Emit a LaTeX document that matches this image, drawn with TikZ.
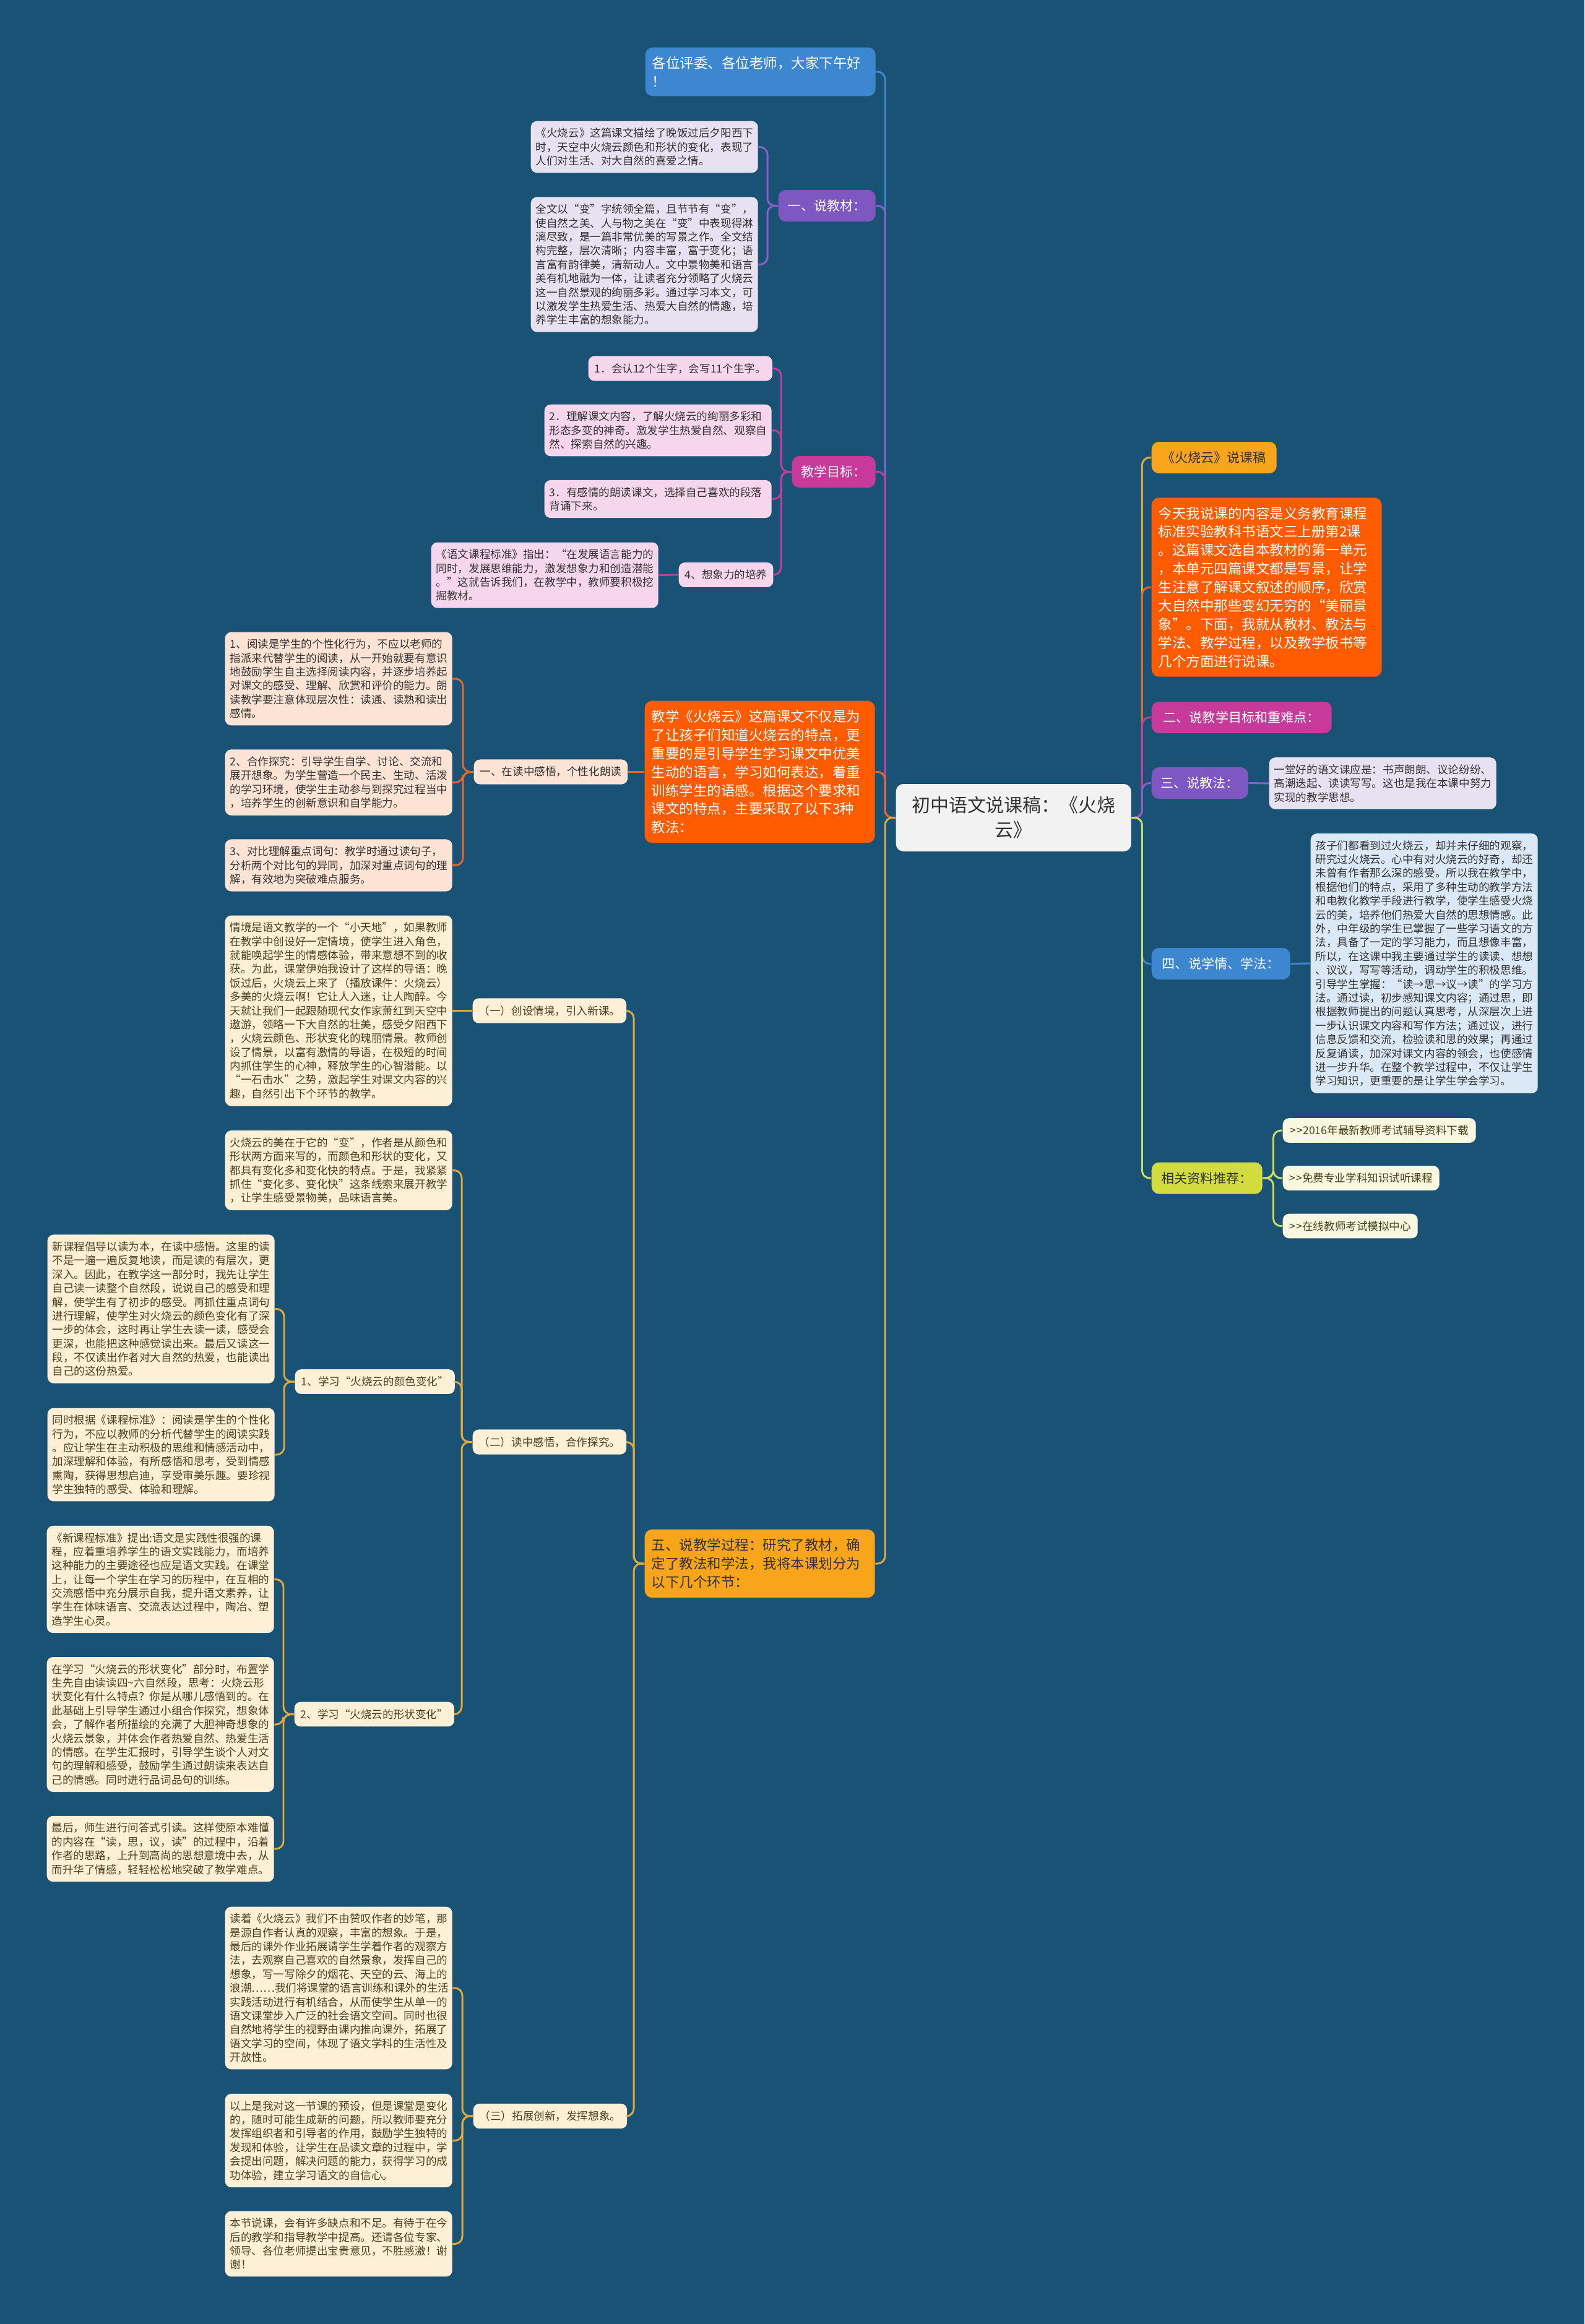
\documentclass[tikz,border=0pt]{standalone}
\usepackage{fontspec}
\setmainfont{Noto Sans CJK SC}
\usepackage{xcolor}
\definecolor{bgblue}{HTML}{1A5276}
\definecolor{cBlue}{HTML}{3D87D0}
\definecolor{cPur}{HTML}{7E57C2}
\definecolor{cPnk}{HTML}{C7399B}
\definecolor{cOrg}{HTML}{FF5B00}
\definecolor{cGld}{HTML}{F8A51C}
\definecolor{cGrn}{HTML}{D3DC3E}
\definecolor{lBlue}{HTML}{3F86CC}
\definecolor{lPur}{HTML}{8A5FC8}
\definecolor{lPnk}{HTML}{C13F99}
\definecolor{lOrg}{HTML}{E2692B}
\definecolor{lGld}{HTML}{E0A93A}
\definecolor{lGrn}{HTML}{C8DE5F}
\definecolor{fPur}{HTML}{E7E1F2}
\definecolor{fPnk}{HTML}{F6D6EC}
\definecolor{fOrg}{HTML}{FDE3D3}
\definecolor{fGld}{HTML}{FDF0D7}
\definecolor{fGrn}{HTML}{F7F8DF}
\definecolor{fBlue}{HTML}{DBE8F5}
\definecolor{tDark}{HTML}{333333}
\definecolor{tBrown}{HTML}{4F3F1E}
\usepackage{tikz}
\tikzset{
  root/.style ={rectangle, rounded corners=1.2mm, fill=black!5, text=tDark, align=center,
                text width=34mm, minimum width=38mm, minimum height=10.9mm, anchor=west,
                font=\fontsize{8.5}{11.4}\selectfont},
  topic/.style={rectangle, rounded corners=1.2mm, minimum height=5.1mm, inner xsep=1mm,
                text=white, anchor=west, font=\fontsize{6}{7.5}\selectfont},
  para/.style ={rectangle, rounded corners=1.2mm, inner xsep=1.1mm, inner ysep=4.2pt,
                text width=35mm, align=left, text=white, anchor=west,
                font=\fontsize{6.4}{8.5}\selectfont},
  leaf/.style ={rectangle, rounded corners=1mm, inner xsep=0.8mm, inner ysep=3.2pt,
                text width=35.1mm, align=left, text=tDark, anchor=west,
                font=\fontsize{5}{6.37}\selectfont},
  tag/.style  ={rectangle, rounded corners=1mm, minimum height=3.9mm, inner xsep=1mm,
                text=tDark, anchor=west, font=\fontsize{5}{6.37}\selectfont},
  link/.style ={rounded corners=1.2mm, line width=0.85pt},
}
\newcommand{\gtgt}{>\kern0.4pt>}

\begin{document}
\begin{tikzpicture}[x=1mm, y=-1mm]
  \fill[bgblue] (0,0) rectangle (256,375.6);

  \node[root] (root) at (144.7,132.15) {初中语文说课稿：《火烧\\云》};

  % left side
  \node[para, fill=cBlue] (hello) at (104.2,11.6) {各位评委、各位老师，大家下午好\\！};

  \node[topic, fill=cPur, minimum width=15.7mm] (jiaocai) at (125.7,33.25) {一、说教材：};
  \node[leaf, fill=fPur] (jc1) at (85.7,23.75) {《火烧云》这篇课文描绘了晚饭过后夕阳西下\\时，天空中火烧云颜色和形状的变化，表现了\\人们对生活、对大自然的喜爱之情。};
  \node[leaf, fill=fPur] (jc2) at (85.7,42.75) {全文以“变”字统领全篇，且节节有“变”，\\使自然之美、人与物之美在“变”中表现得淋\\漓尽致，是一篇非常优美的写景之作。全文结\\构完整，层次清晰；内容丰富，富于变化；语\\言富有韵律美，清新动人。文中景物美和语言\\美有机地融为一体，让读者充分领略了火烧云\\这一自然景观的绚丽多彩。通过学习本文，可\\以激发学生热爱生活、热爱大自然的情趣，培\\养学生丰富的想象能力。};

  \node[topic, fill=cPnk, minimum width=13.5mm] (mubiao) at (127.9,76.25) {教学目标：};
  \node[tag, fill=fPnk, minimum width=29.6mm] (mb1) at (95.0,59.55) {1．会认12个生字，会写11个生字。};
  \node[leaf, fill=fPnk] (mb2) at (87.9,69.55) {2．理解课文内容，了解火烧云的绚丽多彩和\\形态多变的神奇。激发学生热爱自然、观察自\\然、探索自然的兴趣。};
  \node[leaf, fill=fPnk] (mb3) at (87.9,80.65) {3．有感情的朗读课文，选择自己喜欢的段落\\背诵下来。};
  \node[tag, fill=fPnk, minimum width=15mm] (mb4) at (109.6,92.9) {4、想象力的培养};
  \node[leaf, fill=fPnk] (mb4a) at (69.6,92.95) {《语文课程标准》指出：“在发展语言能力的\\同时，发展思维能力，激发想象力和创造潜能\\。”这就告诉我们，在教学中，教师要积极挖\\掘教材。};

  \node[para, fill=cOrg] (jiaofa3) at (104.1,124.75) {教学《火烧云》这篇课文不仅是为\\了让孩子们知道火烧云的特点，更\\重要的是引导学生学习课文中优美\\生动的语言，学习如何表达，着重\\训练学生的语感。根据这个要求和\\课文的特点，主要采取了以下3种\\教法：};
  \node[tag, fill=fOrg, minimum width=24.2mm] (dudu) at (76.5,124.75) {一、在读中感悟，个性化朗读};
  \node[leaf, fill=fOrg] (dd1) at (36.3,109.7) {1、阅读是学生的个性化行为，不应以老师的\\指派来代替学生的阅读，从一开始就要有意识\\地鼓励学生自主选择阅读内容，并逐步培养起\\对课文的感受、理解、欣赏和评价的能力。朗\\读教学要注意体现层次性：读通、读熟和读出\\感情。};
  \node[leaf, fill=fOrg] (dd2) at (36.3,126.45) {2、合作探究：引导学生自学、讨论、交流和\\展开想象。为学生营造一个民主、生动、活泼\\的学习环境，使学生主动参与到探究过程当中\\，培养学生的创新意识和自学能力。};
  \node[leaf, fill=fOrg] (dd3) at (36.3,139.85) {3、对比理解重点词句：教学时通过读句子，\\分析两个对比句的异同，加深对重点词句的理\\解，有效地为突破难点服务。};

  \node[para, fill=cGld, text=tDark] (guocheng) at (104.1,252.7) {五、说教学过程：研究了教材，确\\定了教法和学法，我将本课划分为\\以下几个环节：};
  \node[tag, fill=fGld, text=tBrown, minimum width=24.5mm] (step1) at (76.3,163.35) {（一）创设情境，引入新课。};
  \node[leaf, fill=fGld, text=tBrown] (qj) at (36.3,163.35) {情境是语文教学的一个“小天地”，如果教师\\在教学中创设好一定情境，使学生进入角色，\\就能唤起学生的情感体验，带来意想不到的收\\获。为此，课堂伊始我设计了这样的导语：晚\\饭过后，火烧云上来了（播放课件：火烧云）\\多美的火烧云啊！它让人入迷，让人陶醉。今\\天就让我们一起跟随现代女作家萧红到天空中\\遨游，领略一下大自然的壮美，感受夕阳西下\\，火烧云颜色、形状变化的瑰丽情景。教师创\\设了情景，以富有激情的导语，在极短的时间\\内抓住学生的心神，释放学生的心智潜能。以\\“一石击水”之势，激起学生对课文内容的兴\\趣，自然引出下个环节的教学。};
  \node[tag, fill=fGld, text=tBrown, minimum width=24.2mm] (step2) at (76.3,233.05) {（二）读中感悟，合作探究。};
  \node[leaf, fill=fGld, text=tBrown] (meili) at (36.3,189.15) {火烧云的美在于它的“变”，作者是从颜色和\\形状两方面来写的，而颜色和形状的变化，又\\都具有变化多和变化快的特点。于是，我紧紧\\抓住“变化多、变化快”这条线索来展开教学\\，让学生感受景物美，品味语言美。};
  \node[tag, fill=fGld, text=tBrown, minimum width=25.4mm] (yanse) at (47.6,223.3) {1、学习“火烧云的颜色变化”};
  \node[leaf, fill=fGld, text=tBrown] (ys1) at (7.6,211.55) {新课程倡导以读为本，在读中感悟。这里的读\\不是一遍一遍反复地读，而是读的有层次，更\\深入。因此，在教学这一部分时，我先让学生\\自己读一读整个自然段，说说自己的感受和理\\解，使学生有了初步的感受。再抓住重点词句\\进行理解，使学生对火烧云的颜色变化有了深\\一步的体会，这时再让学生去读一读，感受会\\更深，也能把这种感觉读出来。最后又读这一\\段，不仅读出作者对大自然的热爱，也能读出\\自己的这份热爱。};
  \node[leaf, fill=fGld, text=tBrown] (ys2) at (7.6,235.1) {同时根据《课程标准》：阅读是学生的个性化\\行为，不应以教师的分析代替学生的阅读实践\\。应让学生在主动积极的思维和情感活动中，\\加深理解和体验，有所感悟和思考，受到情感\\熏陶，获得思想启迪，享受审美乐趣。要珍视\\学生独特的感受、体验和理解。};
  \node[tag, fill=fGld, text=tBrown, minimum width=25.4mm] (xingzh) at (47.5,277.05) {2、学习“火烧云的形状变化”};
  \node[leaf, fill=fGld, text=tBrown] (xz1) at (7.5,255.25) {《新课程标准》提出:语文是实践性很强的课\\程，应着重培养学生的语文实践能力，而培养\\这种能力的主要途径也应是语文实践。在课堂\\上，让每一个学生在学习的历程中，在互相的\\交流感悟中充分展示自我，提升语文素养，让\\学生在体味语言、交流表达过程中，陶冶、塑\\造学生心灵。};
  \node[leaf, fill=fGld, text=tBrown] (xz2) at (7.5,278.7) {在学习“火烧云的形状变化”部分时，布置学\\生先自由读读四\textasciitilde 六自然段，思考：火烧云形\\状变化有什么特点？你是从哪儿感悟到的。在\\此基础上引导学生通过小组合作探究，想象体\\会，了解作者所描绘的充满了大胆神奇想象的\\火烧云景象，并体会作者热爱自然、热爱生活\\的情感。在学生汇报时，引导学生谈个人对文\\句的理解和感受，鼓励学生通过朗读来表达自\\己的情感。同时进行品词品句的训练。};
  \node[leaf, fill=fGld, text=tBrown] (xz3) at (7.5,298.8) {最后，师生进行问答式引读。这样使原本难懂\\的内容在“读，思，议，读”的过程中，沿着\\作者的思路，上升到高尚的思想意境中去，从\\而升华了情感，轻轻松松地突破了教学难点。};
  \node[tag, fill=fGld, text=tBrown, minimum width=24.4mm] (step3) at (76.4,342.0) {（三）拓展创新，发挥想象。};
  \node[leaf, fill=fGld, text=tBrown] (tz1) at (36.3,321.3) {读着《火烧云》我们不由赞叹作者的妙笔，那\\是源自作者认真的观察，丰富的想象。于是，\\最后的课外作业拓展请学生学着作者的观察方\\法，去观察自己喜欢的自然景象，发挥自己的\\想象，写一写除夕的烟花、天空的云、海上的\\浪潮……我们将课堂的语言训练和课外的生活\\实践活动进行有机结合，从而使学生从单一的\\语文课堂步入广泛的社会语文空间。同时也很\\自然地将学生的视野由课内推向课外，拓展了\\语文学习的空间，体现了语文学科的生活性及\\开放性。};
  \node[leaf, fill=fGld, text=tBrown] (tz2) at (36.3,345.95) {以上是我对这一节课的预设，但是课堂是变化\\的，随时可能生成新的问题，所以教师要充分\\发挥组织者和引导者的作用，鼓励学生独特的\\发现和体验，让学生在品读文章的过程中，学\\会提出问题，解决问题的能力，获得学习的成\\功体验，建立学习语文的自信心。};
  \node[leaf, fill=fGld, text=tBrown] (tz3) at (36.3,362.65) {本节说课，会有许多缺点和不足。有待于在今\\后的教学和指导教学中提高。还请各位专家、\\领导、各位老师提出宝贵意见，不胜感激！谢\\谢！};

  % right side
  \node[topic, fill=cGld, text=tDark, minimum width=20.2mm] (gao) at (186.0,73.95) {《火烧云》说课稿};
  \node[para, fill=cOrg] (neirong) at (186.0,94.9) {今天我说课的内容是义务教育课程\\标准实验教科书语文三上册第2课\\。这篇课文选自本教材的第一单元\\，本单元四篇课文都是写景，让学\\生注意了解课文叙述的顺序，欣赏\\大自然中那些变幻无穷的“美丽景\\象”。下面，我就从教材、教法与\\学法、教学过程，以及教学板书等\\几个方面进行说课。};
  \node[topic, fill=cPnk, minimum width=29.1mm] (nandian) at (186.0,115.95) {二、说教学目标和重难点：};
  \node[topic, fill=cPur, minimum width=15.6mm] (jiaofa) at (186.0,126.55) {三、说教法：};
  \node[leaf, fill=fPur] (jf1) at (205.0,126.6) {一堂好的语文课应是：书声朗朗、议论纷纷、\\高潮迭起、读读写写。这也是我在本课中努力\\实现的教学思想。};
  \node[topic, fill=cBlue, minimum width=22.4mm] (xueqing) at (186.0,155.75) {四、说学情、学法：};
  \node[leaf, fill=fBlue] (xq1) at (211.7,155.7) {孩子们都看到过火烧云，却并未仔细的观察，\\研究过火烧云。心中有对火烧云的好奇，却还\\未曾有作者那么深的感受。所以我在教学中，\\根据他们的特点，采用了多种生动的教学方法\\和电教化教学手段进行教学，使学生感受火烧\\云的美，培养他们热爱大自然的思想情感。此\\外，中年级的学生已掌握了一些学习语文的方\\法，具备了一定的学习能力，而且想像丰富，\\所以，在这课中我主要通过学生的读读、想想\\、议议，写写等活动，调动学生的积极思维。\\引导学生掌握：“读→思→议→读”的学习方\\法。通过读，初步感知课文内容；通过思，即\\根据教师提出的问题认真思考，从深层次上进\\一步认识课文内容和写作方法；通过议，进行\\信息反馈和交流，检验读和思的效果；再通过\\反复诵读，加深对课文内容的领会，也使感情\\进一步升华。在整个教学过程中，不仅让学生\\学习知识，更重要的是让学生学会学习。};
  \node[topic, fill=cGrn, text=tDark, minimum width=17.9mm] (ziliao) at (186.0,190.4) {相关资料推荐：};
  \node[tag, fill=fGrn, text=tBrown, minimum width=31.2mm] (zl1) at (207.2,182.7) {\gtgt 2016年最新教师考试辅导资料下载};
  \node[tag, fill=fGrn, text=tBrown, minimum width=25.3mm] (zl2) at (207.2,190.4) {\gtgt 免费专业学科知识试听课程};
  \node[tag, fill=fGrn, text=tBrown, minimum width=21.8mm] (zl3) at (207.2,198.15) {\gtgt 在线教师考试模拟中心};

  % connectors, left
  \draw[link, lBlue] (root.west) -- ++(-1.7,0) |- (hello.east);
  \draw[link, lPur] (root.west) -- ++(-1.7,0) |- (jiaocai.east);
  \draw[link, lPur] (jiaocai.west) -- ++(-1.7,0) |- (jc1.east);
  \draw[link, lPur] (jiaocai.west) -- ++(-1.7,0) |- (jc2.east);
  \draw[link, lPnk] (root.west) -- ++(-1.7,0) |- (mubiao.east);
  \draw[link, lPnk] (mubiao.west) -- ++(-1.7,0) |- (mb1.east);
  \draw[link, lPnk] (mubiao.west) -- ++(-1.7,0) |- (mb2.east);
  \draw[link, lPnk] (mubiao.west) -- ++(-1.7,0) |- (mb3.east);
  \draw[link, lPnk] (mubiao.west) -- ++(-1.7,0) |- (mb4.east);
  \draw[link, lPnk] (mb4.west) -- (mb4a.east);
  \draw[link, lOrg] (root.west) -- ++(-1.7,0) |- (jiaofa3.east);
  \draw[link, lOrg] (jiaofa3.west) -- (dudu.east);
  \draw[link, lOrg] (dudu.west) -- ++(-1.7,0) |- (dd1.east);
  \draw[link, lOrg] (dudu.west) -- ++(-1.7,0) |- (dd2.east);
  \draw[link, lOrg] (dudu.west) -- ++(-1.7,0) |- (dd3.east);
  \draw[link, lGld] (root.west) -- ++(-1.7,0) |- (guocheng.east);
  \draw[link, lGld] (guocheng.west) -- ++(-1.7,0) |- (step1.east);
  \draw[link, lGld] (guocheng.west) -- ++(-1.7,0) |- (step2.east);
  \draw[link, lGld] (guocheng.west) -- ++(-1.7,0) |- (step3.east);
  \draw[link, lGld] (step1.west) -- (qj.east);
  \draw[link, lGld] (step2.west) -- ++(-1.7,0) |- (meili.east);
  \draw[link, lGld] (step2.west) -- ++(-1.7,0) |- (yanse.east);
  \draw[link, lGld] (step2.west) -- ++(-1.7,0) |- (xingzh.east);
  \draw[link, lGld] (yanse.west) -- ++(-1.7,0) |- (ys1.east);
  \draw[link, lGld] (yanse.west) -- ++(-1.7,0) |- (ys2.east);
  \draw[link, lGld] (xingzh.west) -- ++(-1.7,0) |- (xz1.east);
  \draw[link, lGld] (xingzh.west) -- ++(-1.7,0) |- (xz2.east);
  \draw[link, lGld] (xingzh.west) -- ++(-1.7,0) |- (xz3.east);
  \draw[link, lGld] (step3.west) -- ++(-1.7,0) |- (tz1.east);
  \draw[link, lGld] (step3.west) -- ++(-1.7,0) |- (tz2.east);
  \draw[link, lGld] (step3.west) -- ++(-1.7,0) |- (tz3.east);

  % connectors, right
  \draw[link, lGld] (root.east) -- ++(1.7,0) |- (gao.west);
  \draw[link, lOrg] (root.east) -- ++(1.7,0) |- (neirong.west);
  \draw[link, lPnk] (root.east) -- ++(1.7,0) |- (nandian.west);
  \draw[link, lPur] (root.east) -- ++(1.7,0) |- (jiaofa.west);
  \draw[link, lPur] (jiaofa.east) -- (jf1.west);
  \draw[link, lBlue] (root.east) -- ++(1.7,0) |- (xueqing.west);
  \draw[link, lBlue] (xueqing.east) -- (xq1.west);
  \draw[link, lGrn] (root.east) -- ++(1.7,0) |- (ziliao.west);
  \draw[link, lGrn] (ziliao.east) -- ++(1.7,0) |- (zl1.west);
  \draw[link, lGrn] (ziliao.east) -- ++(1.7,0) |- (zl2.west);
  \draw[link, lGrn] (ziliao.east) -- ++(1.7,0) |- (zl3.west);
\end{tikzpicture}
\end{document}
